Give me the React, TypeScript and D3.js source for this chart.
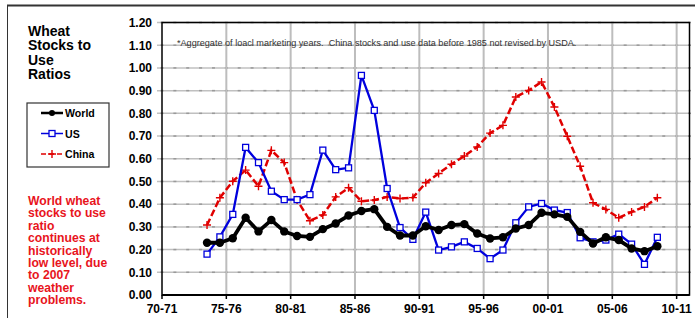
import * as d3 from "d3";

// marketing years 73-74 .. 08-09 (start year)
const years = d3.range(1973, 2009);

const worldRatio = [
  0.23, 0.23, 0.25, 0.34, 0.28, 0.33, 0.28, 0.26, 0.256, 0.29, 0.315, 0.35,
  0.37, 0.378, 0.30, 0.262, 0.262, 0.303, 0.286, 0.308, 0.312, 0.271, 0.249,
  0.254, 0.293, 0.308, 0.362, 0.355, 0.344, 0.278, 0.227, 0.254, 0.242, 0.205,
  0.193, 0.215,
];
const usRatio = [
  0.18, 0.256, 0.355, 0.65, 0.583, 0.457, 0.42, 0.42, 0.442, 0.638, 0.552,
  0.56, 0.967, 0.813, 0.469, 0.297, 0.245, 0.365, 0.198, 0.212, 0.234, 0.205,
  0.16, 0.198, 0.318, 0.388, 0.403, 0.374, 0.363, 0.252, 0.234, 0.242, 0.268,
  0.224, 0.135, 0.254,
];
const chinaRatio = [
  0.308, 0.428, 0.501, 0.55, 0.479, 0.637, 0.583, 0.418, 0.327, 0.352, 0.432,
  0.472, 0.413, 0.418, 0.432, 0.425, 0.429, 0.494, 0.535, 0.576, 0.612, 0.652,
  0.713, 0.747, 0.872, 0.901, 0.938, 0.828, 0.699, 0.567, 0.406, 0.377, 0.34,
  0.366, 0.388, 0.428,
];

const xTickYears = [1970, 1975, 1980, 1985, 1990, 1995, 2000, 2005, 2010];
const xTickLabels = ["70-71", "75-76", "80-81", "85-86", "90-91", "95-96", "00-01", "05-06", "10-11"];
const yTicks = d3.range(0, 13).map((i) => i / 10);

const titleLines = ["Wheat", "Stocks to", "Use", "Ratios"];
const noteLines = [
  "World wheat", "stocks to use", "ratio", "continues at", "historically",
  "low level, due", "to 2007", "weather", "problems.",
];
const footnote =
  "*Aggregate of loacl marketing years.  China stocks and use data before 1985 not revised by USDA.";

const W = 695;
const H = 318;
const PLOT = { left: 162, right: 689.5, top: 22.5, bottom: 295 };
const FONT = "Arial, 'Liberation Sans', sans-serif";

const x = d3.scaleLinear().domain([1970, 2011]).range([PLOT.left, PLOT.right]);
const y = d3.scaleLinear().domain([0, 1.2]).range([PLOT.bottom, PLOT.top]);

const lineGen = d3
  .line<number>()
  .x((_, i) => x(years[i] + 0.5))
  .y((d) => y(d));

const Square = ({ cx, cy }: { cx: number; cy: number }) => (
  <rect x={cx - 3} y={cy - 3} width={6} height={6} fill="white" stroke="#0000dd" strokeWidth={1.3} />
);
const Plus = ({ cx, cy }: { cx: number; cy: number }) => (
  <path d={`M${cx - 4},${cy}H${cx + 4}M${cx},${cy - 4}V${cy + 4}`} stroke="#e00000" strokeWidth={1.4} />
);

export default function App() {
  const minorYears = d3.range(1970, 2012);
  return (
    <svg width={W} height={H} style={{ position: "absolute", left: 0, top: 0, background: "white" }} fontFamily={FONT}>
      {/* outer frame */}
      <line x1={7} x2={W} y1={5.5} y2={5.5} stroke="#333" strokeWidth={2} />
      <line x1={7.5} x2={7.5} y1={5} y2={H} stroke="#333" strokeWidth={1} />

      {/* gridlines */}
      {yTicks.slice(1).map((t) => (
        <g key={t}>
          <line x1={PLOT.left - 5} x2={PLOT.right} y1={y(t)} y2={y(t)} stroke="#c0c0c0" strokeWidth={1.5} />
          {minorYears.map((yr) => (
            <line key={yr} x1={x(yr) - 1.5} x2={x(yr) + 1.5} y1={y(t)} y2={y(t)} stroke="#9a9a9a" strokeWidth={1.5} />
          ))}
        </g>
      ))}
      {xTickYears.slice(1).map((yr) => (
        <line key={yr} x1={x(yr)} x2={x(yr)} y1={PLOT.top} y2={PLOT.bottom} stroke="#bdbdbd" strokeWidth={2} />
      ))}

      {/* footnote */}
      <text x={177} y={46} fontSize={9.1} fill="#333" style={{ whiteSpace: "pre" }}>{footnote}</text>

      {/* plot border and axes */}
      <rect x={PLOT.left} y={PLOT.top} width={PLOT.right - PLOT.left} height={PLOT.bottom - PLOT.top} fill="none" stroke="black" strokeWidth={1.5} />
      <line x1={PLOT.left} x2={PLOT.right} y1={PLOT.bottom} y2={PLOT.bottom} stroke="black" strokeWidth={2} />
      {xTickYears.map((yr) => (
        <line key={yr} x1={x(yr)} x2={x(yr)} y1={PLOT.bottom} y2={PLOT.bottom + 4} stroke="black" strokeWidth={1.5} />
      ))}
      {yTicks.map((t) => (
        <text key={t} x={152} y={y(t) + 4.3} textAnchor="end" fontSize={12} fontWeight="bold" fill="black">
          {t.toFixed(2)}
        </text>
      ))}
      {xTickYears.map((yr, i) => (
        <text key={yr} x={x(yr)} y={313} textAnchor="middle" fontSize={12} fontWeight="bold" fill="black">
          {xTickLabels[i]}
        </text>
      ))}

      {/* series */}
      <path d={lineGen(chinaRatio) ?? ""} fill="none" stroke="#e00000" strokeWidth={2.5} strokeDasharray="7,3" />
      {chinaRatio.map((v, i) => (
        <Plus key={i} cx={x(years[i] + 0.5)} cy={y(v)} />
      ))}
      <path d={lineGen(usRatio) ?? ""} fill="none" stroke="#0000dd" strokeWidth={2.3} />
      {usRatio.map((v, i) => (
        <Square key={i} cx={x(years[i] + 0.5)} cy={y(v)} />
      ))}
      <path d={lineGen(worldRatio) ?? ""} fill="none" stroke="black" strokeWidth={3.8} strokeLinejoin="round" />
      {worldRatio.map((v, i) => (
        <circle key={i} cx={x(years[i] + 0.5)} cy={y(v)} r={4.2} fill="black" />
      ))}

      {/* title */}
      {titleLines.map((s, i) => (
        <text key={s} x={28} y={36 + i * 14.4} fontSize={14} fontWeight="bold" fill="black">{s}</text>
      ))}

      {/* legend */}
      <rect x={27} y={103} width={82} height={64} fill="white" stroke="#333" strokeWidth={1.2} />
      <line x1={41} x2={63} y1={113} y2={113} stroke="black" strokeWidth={2.5} />
      <circle cx={52} cy={113} r={3} fill="black" />
      <text x={65} y={117} fontSize={10.6} fontWeight="bold">World</text>
      <line x1={41} x2={63} y1={133.5} y2={133.5} stroke="#0000dd" strokeWidth={1.5} />
      <Square cx={52} cy={133.5} />
      <text x={65} y={137.5} fontSize={10.6} fontWeight="bold">US</text>
      <line x1={41} x2={63} y1={154} y2={154} stroke="#e00000" strokeWidth={1.5} strokeDasharray="5,3" />
      <Plus cx={52} cy={154} />
      <text x={65} y={158} fontSize={10.6} fontWeight="bold">China</text>

      {/* note */}
      {noteLines.map((s, i) => (
        <text key={s} x={28} y={205 + i * 12.4} fontSize={12.2} fontWeight="bold" fill="#e8141c">{s}</text>
      ))}
    </svg>
  );
}
